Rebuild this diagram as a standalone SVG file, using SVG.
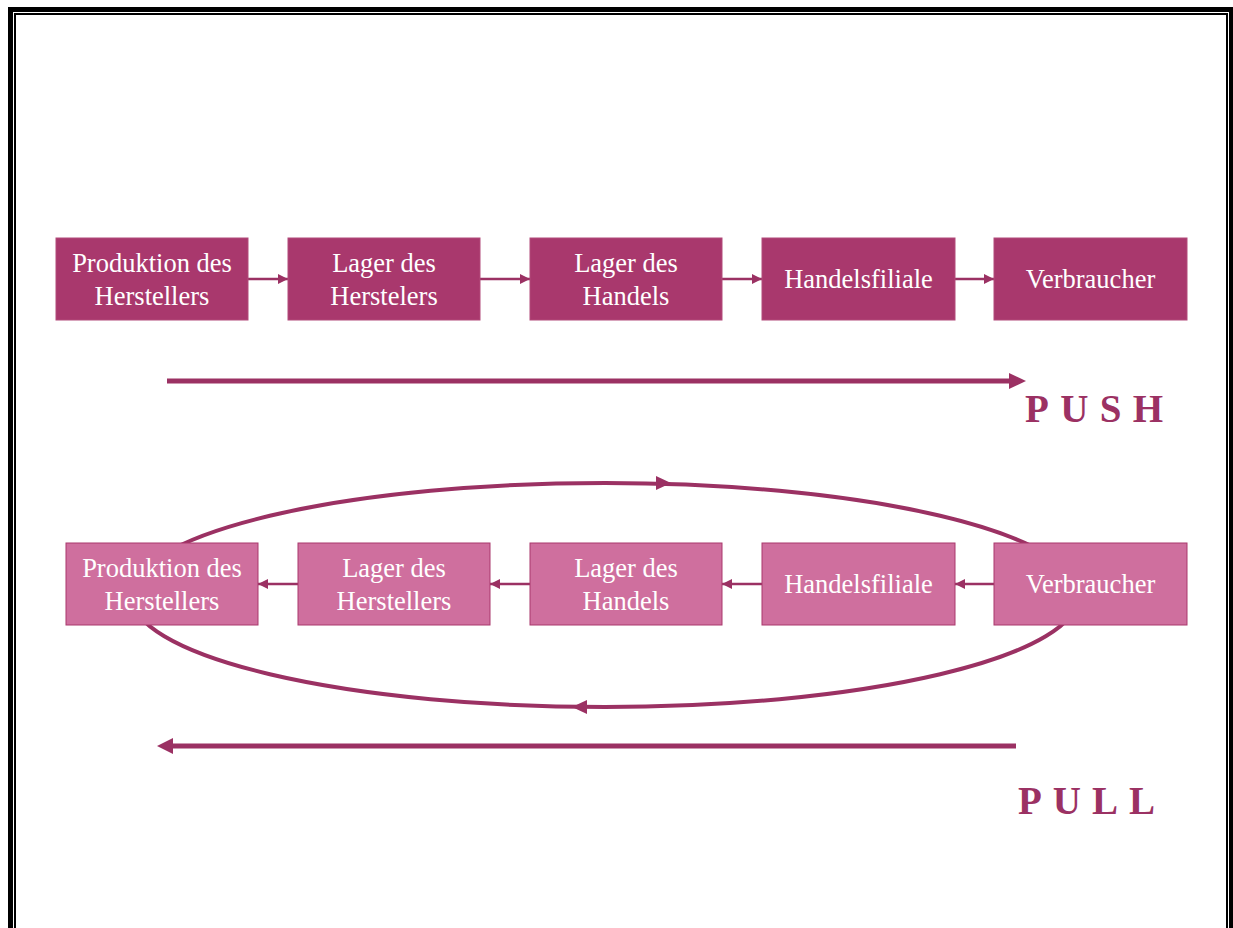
<svg xmlns="http://www.w3.org/2000/svg" width="1233" height="928" viewBox="0 0 1233 928">
  <defs>
    <style>
      .push rect { fill: #A9386D; stroke: #B24A7A; stroke-width: 1; }
      .pull rect { fill: #CF6F9E; stroke: #A9386D; stroke-width: 1; }
      .lbl { font-family: "Liberation Serif", "Times New Roman", serif; font-size: 26.5px; fill: #FFFFFF; text-anchor: middle; }
      .link { stroke: #9B3163; stroke-width: 2.5; fill: none; }
      .big { stroke: #9B3163; stroke-width: 5; fill: none; }
      .cycle { stroke: #9B3163; stroke-width: 4; fill: none; }
      .head { fill: #9B3163; }
      .word { font-family: "Liberation Serif", "Times New Roman", serif; font-size: 39px; font-weight: bold; fill: #9B3163; }
    </style>
    <marker id="tip" viewBox="0 0 10 10" refX="10" refY="5" markerWidth="11" markerHeight="10" markerUnits="userSpaceOnUse" orient="auto">
      <path d="M0,0 L10,5 L0,10 Z" fill="#9B3163"/>
    </marker>
  </defs>

  <!-- page frame: thick outer rule, thin inner rule -->
  <g id="frame" fill="#000000">
    <rect x="8" y="7" width="1225" height="5"/>
    <rect x="8" y="7" width="5" height="921"/>
    <rect x="14" y="13" width="1213" height="2"/>
    <rect x="14" y="13" width="2" height="915"/>
    <rect x="1226" y="13" width="2" height="915"/>
    <rect x="1229" y="7" width="4" height="921"/>
  </g>

  <!-- return loop of the pull chain, drawn behind the boxes -->
  <g id="loop">
    <ellipse class="cycle" cx="605" cy="595" rx="474" ry="112"/>
    <polygon class="head" points="671,483 656,476 656,490"/>
    <polygon class="head" points="572,707 587,700 587,714"/>
  </g>

  <!-- connectors -->
  <g id="connectors">
    <line class="link" x1="248" y1="279" x2="288" y2="279" marker-end="url(#tip)"/>
    <line class="link" x1="480" y1="279" x2="530" y2="279" marker-end="url(#tip)"/>
    <line class="link" x1="722" y1="279" x2="762" y2="279" marker-end="url(#tip)"/>
    <line class="link" x1="955" y1="279" x2="994" y2="279" marker-end="url(#tip)"/>

    <line class="link" x1="298" y1="584" x2="258" y2="584" marker-end="url(#tip)"/>
    <line class="link" x1="530" y1="584" x2="490" y2="584" marker-end="url(#tip)"/>
    <line class="link" x1="762" y1="584" x2="722" y2="584" marker-end="url(#tip)"/>
    <line class="link" x1="994" y1="584" x2="955" y2="584" marker-end="url(#tip)"/>

    <line class="big" x1="167" y1="381" x2="1010" y2="381"/>
    <polygon class="head" points="1026,381 1009,373 1009,389"/>
    <line class="big" x1="1016" y1="746" x2="172" y2="746"/>
    <polygon class="head" points="157,746 173,738 173,754"/>
  </g>

  <!-- push chain -->
  <g id="push-produktion" class="push">
    <rect x="56" y="238" width="192" height="82"/>
    <text class="lbl" x="152" y="272">Produktion des</text>
    <text class="lbl" x="152" y="305">Herstellers</text>
  </g>
  <g id="push-lager-hersteller" class="push">
    <rect x="288" y="238" width="192" height="82"/>
    <text class="lbl" x="384" y="272">Lager des</text>
    <text class="lbl" x="384" y="305">Herstelers</text>
  </g>
  <g id="push-lager-handel" class="push">
    <rect x="530" y="238" width="192" height="82"/>
    <text class="lbl" x="626" y="272">Lager des</text>
    <text class="lbl" x="626" y="305">Handels</text>
  </g>
  <g id="push-filiale" class="push">
    <rect x="762" y="238" width="193" height="82"/>
    <text class="lbl" x="858.5" y="288">Handelsfiliale</text>
  </g>
  <g id="push-verbraucher" class="push">
    <rect x="994" y="238" width="193" height="82"/>
    <text class="lbl" x="1090.5" y="288">Verbraucher</text>
  </g>

  <!-- pull chain -->
  <g id="pull-produktion" class="pull">
    <rect x="66" y="543" width="192" height="82"/>
    <text class="lbl" x="162" y="577">Produktion des</text>
    <text class="lbl" x="162" y="610">Herstellers</text>
  </g>
  <g id="pull-lager-hersteller" class="pull">
    <rect x="298" y="543" width="192" height="82"/>
    <text class="lbl" x="394" y="577">Lager des</text>
    <text class="lbl" x="394" y="610">Herstellers</text>
  </g>
  <g id="pull-lager-handel" class="pull">
    <rect x="530" y="543" width="192" height="82"/>
    <text class="lbl" x="626" y="577">Lager des</text>
    <text class="lbl" x="626" y="610">Handels</text>
  </g>
  <g id="pull-filiale" class="pull">
    <rect x="762" y="543" width="193" height="82"/>
    <text class="lbl" x="858.5" y="593">Handelsfiliale</text>
  </g>
  <g id="pull-verbraucher" class="pull">
    <rect x="994" y="543" width="193" height="82"/>
    <text class="lbl" x="1090.5" y="593">Verbraucher</text>
  </g>

  <!-- flow labels -->
  <g id="labels">
    <text class="word" x="1025" y="422" textLength="138" lengthAdjust="spacing">PUSH</text>
    <text class="word" x="1018" y="814" textLength="137" lengthAdjust="spacing">PULL</text>
  </g>
</svg>
